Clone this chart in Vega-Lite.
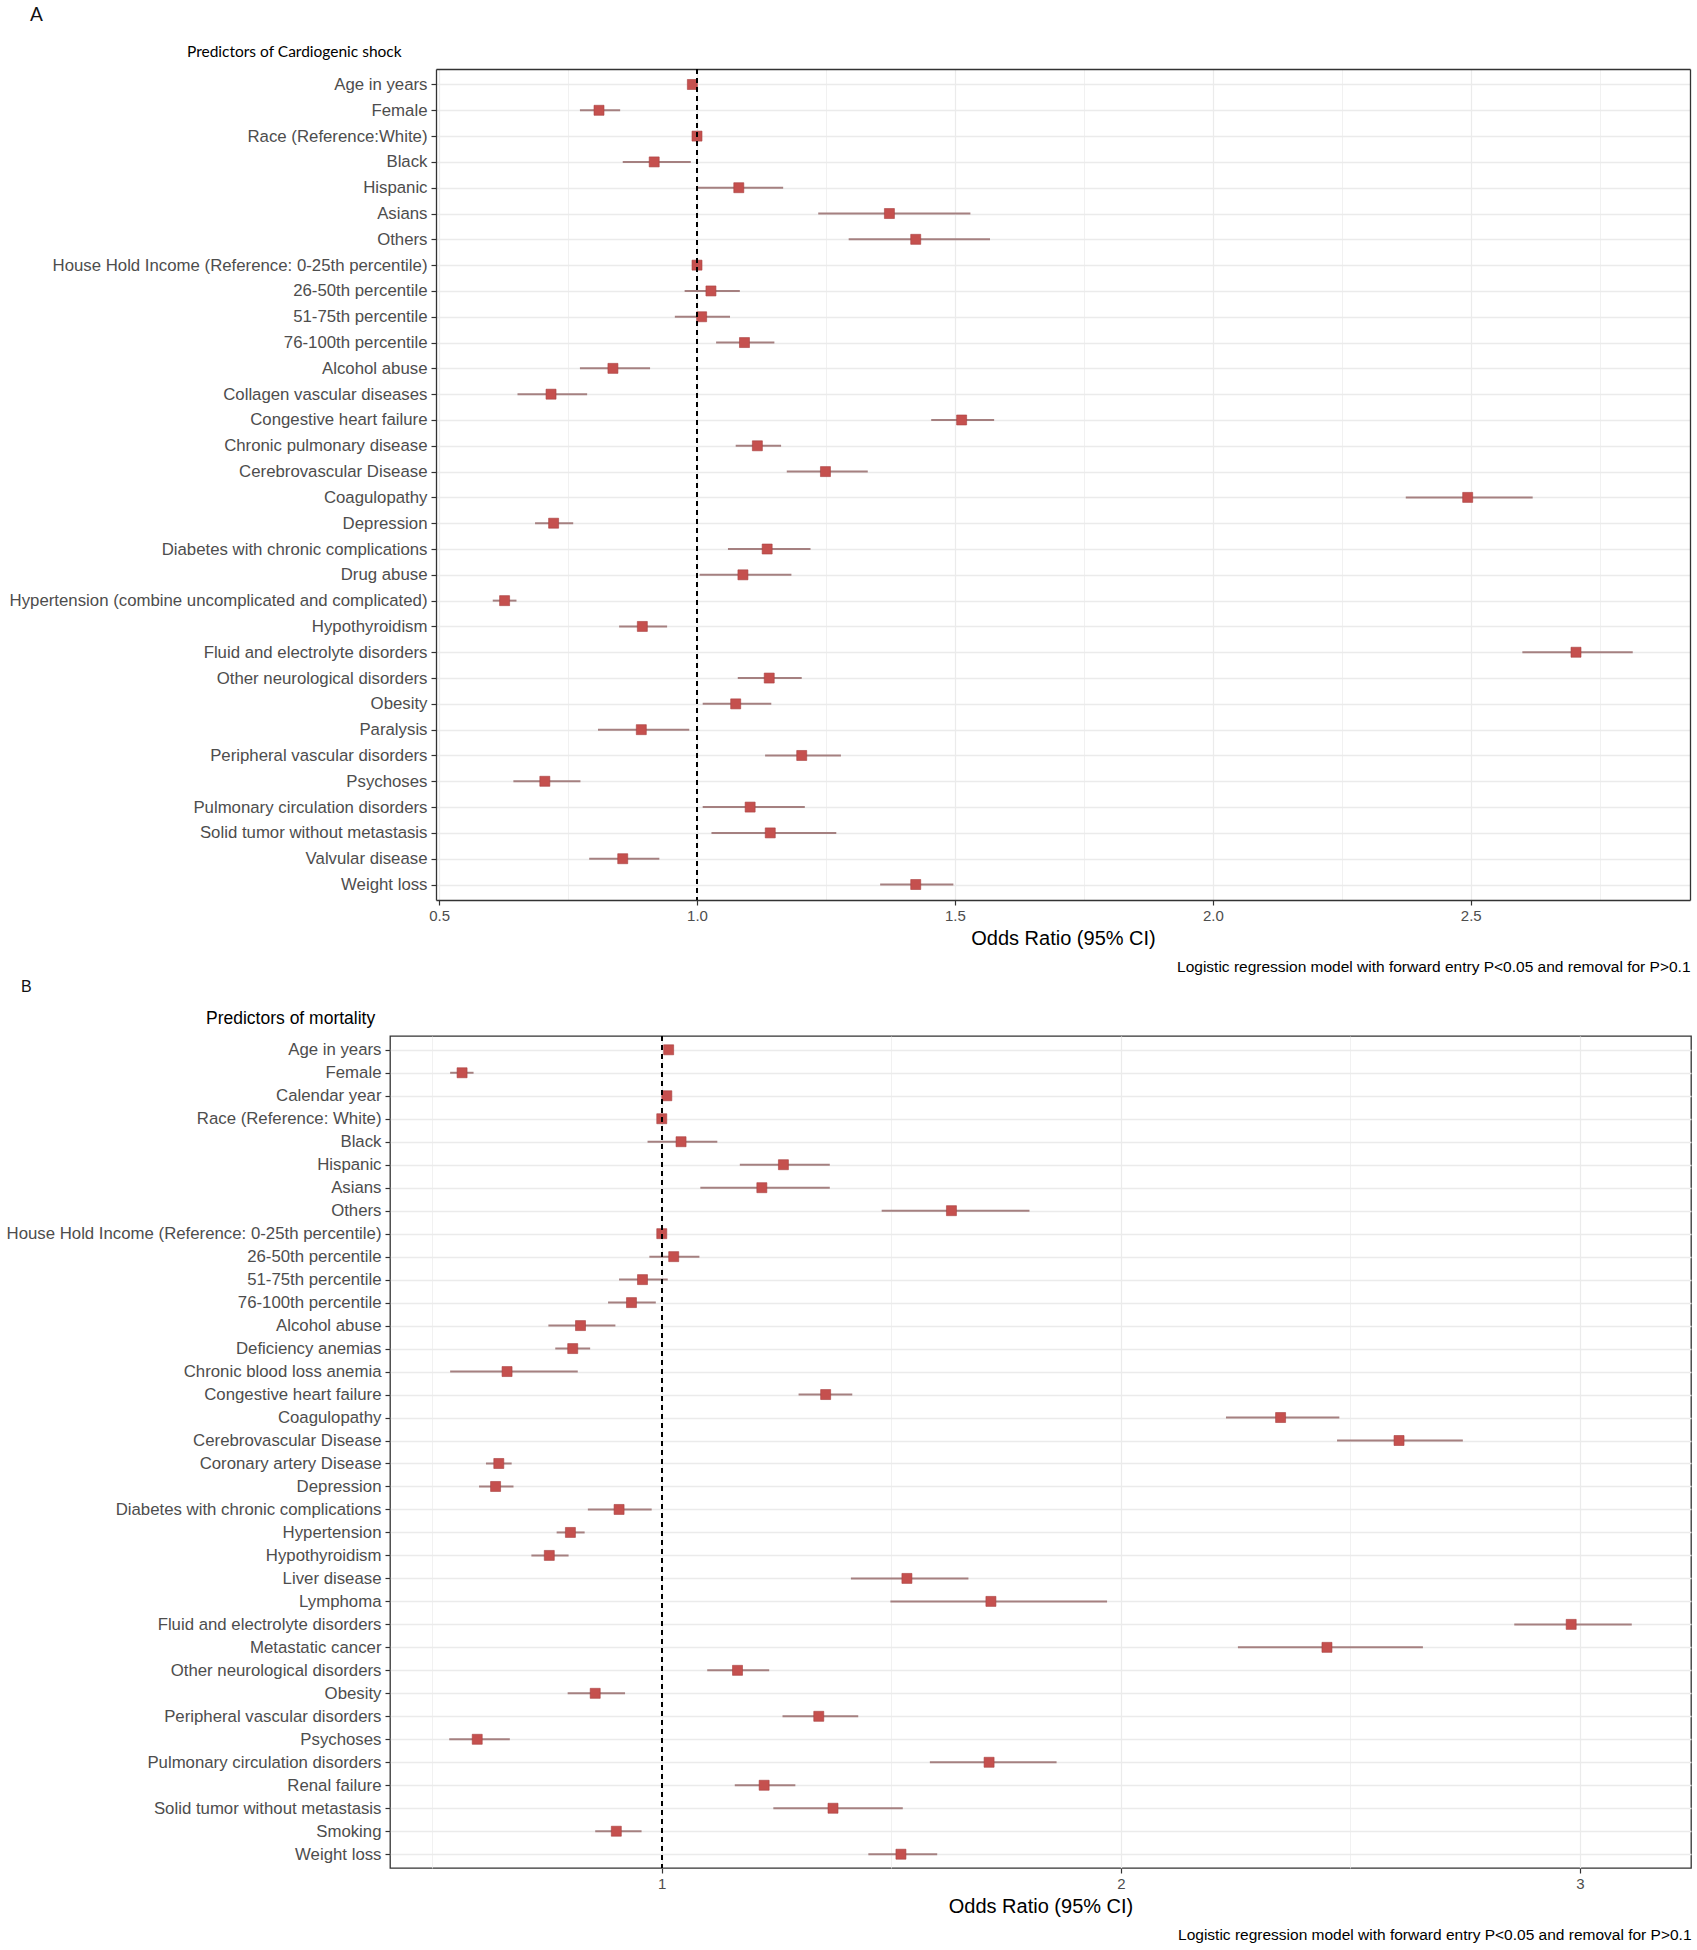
{
  "$schema": "https://vega.github.io/schema/vega-lite/v6.json",
  "background": "white",
  "padding": 5,
  "spacing": 4,
  "config": {
    "view": {"stroke": "#333333", "strokeWidth": 1.3},
    "font": "Liberation Sans",
    "axis": {"labelFont": "Liberation Sans", "titleFont": "Liberation Sans"}
  },
  "datasets": {
    "A": [
      {"label": "Age in years", "or": 0.991, "lo": 0.988, "hi": 0.994},
      {"label": "Female", "or": 0.81, "lo": 0.773, "hi": 0.851},
      {"label": "Race (Reference:White)", "or": 1.0, "lo": 1.0, "hi": 1.0},
      {"label": "Black", "or": 0.917, "lo": 0.856, "hi": 0.988},
      {"label": "Hispanic", "or": 1.081, "lo": 1.0, "hi": 1.167},
      {"label": "Asians", "or": 1.373, "lo": 1.235, "hi": 1.53},
      {"label": "Others", "or": 1.424, "lo": 1.294, "hi": 1.568},
      {"label": "House Hold Income (Reference: 0-25th percentile)", "or": 1.0, "lo": 1.0, "hi": 1.0},
      {"label": "26-50th percentile", "or": 1.027, "lo": 0.976, "hi": 1.083},
      {"label": "51-75th percentile", "or": 1.009, "lo": 0.957, "hi": 1.064},
      {"label": "76-100th percentile", "or": 1.092, "lo": 1.037, "hi": 1.15},
      {"label": "Alcohol abuse", "or": 0.837, "lo": 0.773, "hi": 0.909},
      {"label": "Collagen vascular diseases", "or": 0.717, "lo": 0.652, "hi": 0.787},
      {"label": "Congestive heart failure", "or": 1.513, "lo": 1.454, "hi": 1.576},
      {"label": "Chronic pulmonary disease", "or": 1.117, "lo": 1.075, "hi": 1.163},
      {"label": "Cerebrovascular Disease", "or": 1.249, "lo": 1.174, "hi": 1.331},
      {"label": "Coagulopathy", "or": 2.494, "lo": 2.374, "hi": 2.62},
      {"label": "Depression", "or": 0.722, "lo": 0.686, "hi": 0.76},
      {"label": "Diabetes with chronic complications", "or": 1.136, "lo": 1.06, "hi": 1.22},
      {"label": "Drug abuse", "or": 1.089, "lo": 1.005, "hi": 1.183},
      {"label": "Hypertension (combine uncomplicated and complicated)", "or": 0.627, "lo": 0.604, "hi": 0.65},
      {"label": "Hypothyroidism", "or": 0.894, "lo": 0.849, "hi": 0.942},
      {"label": "Fluid and electrolyte disorders", "or": 2.704, "lo": 2.6, "hi": 2.814},
      {"label": "Other neurological disorders", "or": 1.14, "lo": 1.079, "hi": 1.203},
      {"label": "Obesity", "or": 1.075, "lo": 1.011, "hi": 1.144},
      {"label": "Paralysis", "or": 0.892, "lo": 0.808, "hi": 0.985},
      {"label": "Peripheral vascular disorders", "or": 1.203, "lo": 1.132, "hi": 1.279},
      {"label": "Psychoses", "or": 0.705, "lo": 0.644, "hi": 0.774},
      {"label": "Pulmonary circulation disorders", "or": 1.103, "lo": 1.011, "hi": 1.209},
      {"label": "Solid tumor without metastasis", "or": 1.142, "lo": 1.028, "hi": 1.27},
      {"label": "Valvular disease", "or": 0.856, "lo": 0.791, "hi": 0.927},
      {"label": "Weight loss", "or": 1.424, "lo": 1.355, "hi": 1.497}
    ],
    "B": [
      {"label": "Age in years", "or": 1.015, "lo": 1.012, "hi": 1.018},
      {"label": "Female", "or": 0.565, "lo": 0.539, "hi": 0.59},
      {"label": "Calendar year", "or": 1.011, "lo": 1.008, "hi": 1.014},
      {"label": "Race (Reference: White)", "or": 1.0, "lo": 1.0, "hi": 1.0},
      {"label": "Black", "or": 1.042, "lo": 0.969, "hi": 1.121},
      {"label": "Hispanic", "or": 1.265, "lo": 1.17, "hi": 1.366},
      {"label": "Asians", "or": 1.218, "lo": 1.084, "hi": 1.366},
      {"label": "Others", "or": 1.631, "lo": 1.479, "hi": 1.801},
      {"label": "House Hold Income (Reference: 0-25th percentile)", "or": 1.0, "lo": 1.0, "hi": 1.0},
      {"label": "26-50th percentile", "or": 1.026, "lo": 0.973, "hi": 1.082},
      {"label": "51-75th percentile", "or": 0.958, "lo": 0.907, "hi": 1.013},
      {"label": "76-100th percentile", "or": 0.934, "lo": 0.883, "hi": 0.987},
      {"label": "Alcohol abuse", "or": 0.823, "lo": 0.753, "hi": 0.899},
      {"label": "Deficiency anemias", "or": 0.806, "lo": 0.768, "hi": 0.844},
      {"label": "Chronic blood loss anemia", "or": 0.663, "lo": 0.539, "hi": 0.817},
      {"label": "Congestive heart failure", "or": 1.357, "lo": 1.298, "hi": 1.415},
      {"label": "Coagulopathy", "or": 2.348, "lo": 2.229, "hi": 2.476},
      {"label": "Cerebrovascular Disease", "or": 2.606, "lo": 2.471, "hi": 2.745},
      {"label": "Coronary artery Disease", "or": 0.645, "lo": 0.617, "hi": 0.673},
      {"label": "Depression", "or": 0.638, "lo": 0.602, "hi": 0.677},
      {"label": "Diabetes with chronic complications", "or": 0.907, "lo": 0.839, "hi": 0.978},
      {"label": "Hypertension", "or": 0.801, "lo": 0.771, "hi": 0.832},
      {"label": "Hypothyroidism", "or": 0.755, "lo": 0.716, "hi": 0.797},
      {"label": "Liver disease", "or": 1.534, "lo": 1.412, "hi": 1.668},
      {"label": "Lymphoma", "or": 1.717, "lo": 1.498, "hi": 1.97},
      {"label": "Fluid and electrolyte disorders", "or": 2.981, "lo": 2.857, "hi": 3.113},
      {"label": "Metastatic cancer", "or": 2.449, "lo": 2.255, "hi": 2.658},
      {"label": "Other neurological disorders", "or": 1.165, "lo": 1.099, "hi": 1.234},
      {"label": "Obesity", "or": 0.855, "lo": 0.795, "hi": 0.92},
      {"label": "Peripheral vascular disorders", "or": 1.342, "lo": 1.263, "hi": 1.428},
      {"label": "Psychoses", "or": 0.598, "lo": 0.537, "hi": 0.669},
      {"label": "Pulmonary circulation disorders", "or": 1.713, "lo": 1.584, "hi": 1.86},
      {"label": "Renal failure", "or": 1.223, "lo": 1.159, "hi": 1.291},
      {"label": "Solid tumor without metastasis", "or": 1.373, "lo": 1.243, "hi": 1.525},
      {"label": "Smoking", "or": 0.901, "lo": 0.855, "hi": 0.956},
      {"label": "Weight loss", "or": 1.521, "lo": 1.45, "hi": 1.6}
    ]
  },
  "vconcat": [
    {
      "title": {"text": "A", "anchor": "start", "frame": "group", "dx": -360, "offset": 20, "font": "Lato", "fontSize": 19, "fontWeight": "normal", "color": "#111111"},
      "vconcat": [
        {
          "title": {"text": "Predictors of Cardiogenic shock", "anchor": "start", "frame": "group", "dx": -203, "offset": 8, "font": "Lato", "fontSize": 15.5, "fontWeight": "normal", "color": "#000000"},
          "width": 1300,
          "height": 831,
          "view": {"stroke": null},
          "data": {"name": "A"},
          "resolve": {"axis": {"x": "independent", "y": "independent"}},
          "layer": [
            {
              "mark": {"type": "rule", "color": "#a58080", "strokeWidth": 2},
              "encoding": {
                "y": {"field": "label", "type": "nominal", "sort": null, "scale": {"type": "point", "padding": 0.6},
                  "axis": {"title": null, "offset": -46, "labelFontSize": 16.8, "labelColor": "#4d4d4d", "labelLimit": 700, "labelPadding": 4, "tickSize": 5, "tickColor": "#333333", "tickWidth": 1.2, "domain": true, "domainColor": "#333333", "domainWidth": 1.3, "grid": true, "gridColor": "#ebebeb", "gridWidth": 1.5}},
                "x": {"field": "lo", "type": "quantitative", "scale": {"domain": [0.494, 2.925], "range": [46, 1300], "nice": false, "zero": false},
                  "axis": {
                    "values": [0.5, 0.75, 1, 1.25, 1.5, 1.75, 2, 2.25, 2.5, 2.75],
                    "labelExpr": "abs(round(datum.value*2) - datum.value*2) < 0.001 ? format(datum.value, '.1f') : ''",
                    "tickOpacity": {"condition": {"test": "abs(round(datum.value*2) - datum.value*2) < 0.001", "value": 1}, "value": 0},
                    "gridWidth": {"condition": {"test": "abs(round(datum.value*2) - datum.value*2) < 0.001", "value": 1.2}, "value": 0.7},
                    "gridColor": "#ebebeb",
                    "domain": true, "domainColor": "#333333", "domainWidth": 1.3,
                    "tickSize": 5, "tickColor": "#333333", "tickWidth": 1.2,
                    "labelFontSize": 15, "labelColor": "#4d4d4d", "labelPadding": 3,
                    "title": "Odds Ratio (95% CI)", "titleFontSize": 20, "titleFontWeight": "normal", "titleColor": "#000000", "titlePadding": 5
                  }},
                "x2": {"field": "hi"}
              }
            },
            {
              "mark": {"type": "square", "size": 100, "opacity": 1, "color": "#c5504e", "stroke": "#a84040", "strokeWidth": 0.6},
              "encoding": {
                "y": {"field": "label", "type": "nominal", "sort": null,
                  "axis": {"orient": "right", "title": null, "labels": false, "ticks": false, "grid": false, "domain": true, "domainColor": "#333333", "domainWidth": 1.3, "minExtent": 0, "maxExtent": 0}},
                "x": {"field": "or", "type": "quantitative",
                  "axis": {"orient": "top", "title": null, "labels": false, "ticks": false, "grid": false, "domain": true, "domainColor": "#333333", "domainWidth": 1.3, "minExtent": 0, "maxExtent": 0}}
              }
            },
            {
              "mark": {"type": "rule", "color": "#000000", "strokeDash": [5, 4], "strokeWidth": 1.5},
              "encoding": {
                "x": {"datum": 1, "type": "quantitative",
                  "axis": {"orient": "bottom", "offset": 53, "labels": false, "ticks": false, "domain": false, "grid": false, "minExtent": 0, "maxExtent": 0,
                    "title": "Logistic regression model with forward entry P<0.05 and removal for P>0.1", "titleAnchor": "end", "titleFontSize": 15.5, "titleFontWeight": "normal", "titleColor": "#000000", "titlePadding": 6}}
              }
            }
          ]
        }
      ]
    },
    {
      "title": {"text": "B", "anchor": "start", "frame": "group", "dx": -369, "offset": 14, "font": "Liberation Sans", "fontSize": 16, "fontWeight": "normal", "color": "#111111"},
      "vconcat": [
        {
          "title": {"text": "Predictors of mortality", "anchor": "start", "frame": "group", "dx": -184, "offset": 8, "font": "Liberation Sans", "fontSize": 17.5, "fontWeight": "normal", "color": "#000000"},
          "width": 1301,
          "height": 832,
          "data": {"name": "B"},
          "resolve": {"axis": {"x": "independent"}},
          "layer": [
            {
              "mark": {"type": "rule", "color": "#a58080", "strokeWidth": 2},
              "encoding": {
                "y": {"field": "label", "type": "nominal", "sort": null, "scale": {"type": "point", "padding": 0.6},
                  "axis": {"title": null, "labelFontSize": 16.8, "labelColor": "#4d4d4d", "labelLimit": 700, "labelPadding": 4, "tickSize": 5, "tickColor": "#333333", "tickWidth": 1.2, "domain": false, "grid": true, "gridColor": "#ebebeb", "gridWidth": 1.5}},
                "x": {"field": "lo", "type": "quantitative", "scale": {"domain": [0.408, 3.242], "nice": false, "zero": false},
                  "axis": {
                    "values": [0.5, 1, 1.5, 2, 2.5, 3],
                    "labelExpr": "abs(round(datum.value) - datum.value) < 0.001 ? format(datum.value, 'd') : ''",
                    "tickOpacity": {"condition": {"test": "abs(round(datum.value) - datum.value) < 0.001", "value": 1}, "value": 0},
                    "gridWidth": {"condition": {"test": "abs(round(datum.value) - datum.value) < 0.001", "value": 1.2}, "value": 0.7},
                    "gridColor": "#ebebeb",
                    "domain": false, "tickSize": 5, "tickColor": "#333333", "tickWidth": 1.2,
                    "labelFontSize": 15, "labelColor": "#4d4d4d", "labelPadding": 3,
                    "title": "Odds Ratio (95% CI)", "titleFontSize": 20, "titleFontWeight": "normal", "titleColor": "#000000", "titlePadding": 5
                  }},
                "x2": {"field": "hi"}
              }
            },
            {
              "mark": {"type": "square", "size": 100, "opacity": 1, "color": "#c5504e", "stroke": "#a84040", "strokeWidth": 0.6},
              "encoding": {
                "y": {"field": "label", "type": "nominal", "sort": null},
                "x": {"field": "or", "type": "quantitative", "axis": null}
              }
            },
            {
              "mark": {"type": "rule", "color": "#000000", "strokeDash": [5, 4], "strokeWidth": 1.5},
              "encoding": {
                "x": {"datum": 1, "type": "quantitative",
                  "axis": {"orient": "bottom", "offset": 53, "labels": false, "ticks": false, "domain": false, "grid": false, "minExtent": 0, "maxExtent": 0,
                    "title": "Logistic regression model with forward entry P<0.05 and removal for P>0.1", "titleAnchor": "end", "titleFontSize": 15.5, "titleFontWeight": "normal", "titleColor": "#000000", "titlePadding": 6}}
              }
            }
          ]
        }
      ]
    }
  ]
}
